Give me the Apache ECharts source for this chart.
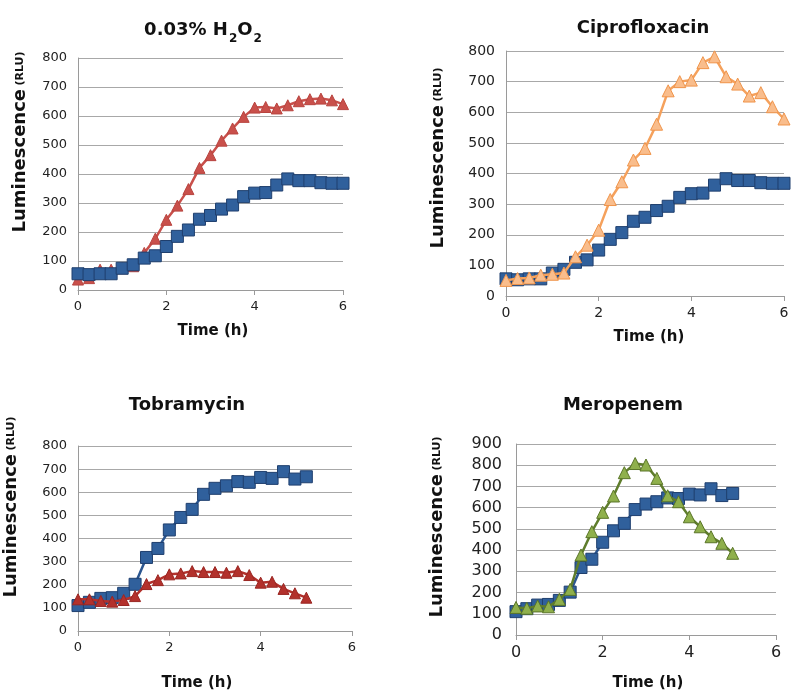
<!DOCTYPE html>
<html>
<head>
<meta charset="utf-8">
<script src="https://cdn.jsdelivr.net/npm/echarts@6/dist/echarts.min.js"></script>
<style>html,body{margin:0;padding:0;background:#fff;}#c{width:800px;height:697px;}</style>
</head>
<body>
<div id="c"></div>
<script>
// Time points (h)
var timeA = [0,0.25,0.5,0.75,1,1.25,1.5,1.75,2,2.25,2.5,2.75,3,3.25,3.5,3.75,4,4.25,4.5,4.75,5,5.25,5.5,5.75,6];
var timeB = [0,0.25,0.5,0.75,1,1.25,1.5,1.75,2,2.25,2.5,2.75,3,3.25,3.5,3.75,4,4.25,4.5,4.75,5];
// Control (blue squares)
var controlA = [56,53,56,56,75,87,110,118,150,185,207,244,257,279,293,322,334,336,362,383,377,377,370,368,368];
var controlB = [110,124,141,144,163,202,318,357,437,491,526,591,617,628,646,643,664,660,689,657,667];
// Treatments (triangles)
var h2o2 = [36,41,70,70,75,82,128,177,242,291,348,421,465,515,557,597,629,631,626,637,651,658,660,654,641];
var cipro = [51,57,59,68,71,75,128,166,215,315,373,444,482,561,670,700,705,762,781,716,692,653,664,618,578];
var tobra = [137,137,130,127,134,151,203,220,245,249,259,255,255,252,259,242,209,213,182,163,144];
var mero = [130,126,137,133,168,215,377,487,578,655,765,808,801,738,656,628,557,510,463,432,385];
// Axis settings
var xTicks = {min:0, max:6, interval:2};
var yMaxA = 800, yMaxD = 900, yStep = 100;

function pairs(t, v){ return t.map(function(x,i){ return [x, v[i]]; }); }

var FONT = 'DejaVu Sans';
var grids = [
  {left:78, top:58, width:265, height:232},
  {left:506, top:51, width:278, height:245},
  {left:78, top:446, width:274, height:185},
  {left:516, top:444, width:260, height:191}
];
var tickFont = [13,14,13,16];
var yMaxes = [yMaxA, yMaxA, yMaxA, yMaxD];

var xAxes = grids.map(function(g,i){
  return {type:'value', gridIndex:i, min:xTicks.min, max:xTicks.max, interval:xTicks.interval,
    axisLine:{show:true, lineStyle:{color:'#9a9a9a', width:1}},
    axisTick:{show:true, length:5, lineStyle:{color:'#9a9a9a'}},
    splitLine:{show:false},
    axisLabel:{color:'#222', fontFamily:FONT, fontSize:tickFont[i], margin:10}};
});
var yAxes = grids.map(function(g,i){
  return {type:'value', gridIndex:i, min:0, max:yMaxes[i], interval:yStep,
    axisLine:{show:true, lineStyle:{color:'#9a9a9a', width:1}},
    axisTick:{show:false},
    splitLine:{show:true, lineStyle:{color:'#a8a8a8', width:1}},
    axisLabel:{color:'#222', fontFamily:FONT, fontSize:tickFont[i], margin:i===3?14:11}};
});

function ser(idx, t, v, sym, size, fill, border, line, z){
  return {type:'line', xAxisIndex:idx, yAxisIndex:idx, data:pairs(t,v), symbol:sym, symbolSize:size,
    showSymbol:true, z:z, animation:false,
    lineStyle:{color:line, width:2.5},
    itemStyle:{color:fill, borderColor:border, borderWidth:1}};
}
var BLUE_F = '#30609c', BLUE_B = '#1f3f6e', BLUE_L = '#2b5690';
var series = [
  ser(0, timeA, h2o2, 'triangle', 11, '#c9504b', '#b8443f', '#c9504b', 2),
  ser(0, timeA, controlA, 'rect', 12, BLUE_F, BLUE_B, BLUE_L, 3),
  ser(1, timeA, controlA, 'rect', 12, BLUE_F, BLUE_B, BLUE_L, 2),
  ser(1, timeA, cipro, 'triangle', 12, '#f9bd8c', '#f0944a', '#f5a15c', 3),
  ser(2, timeB, controlB, 'rect', 12, BLUE_F, BLUE_B, BLUE_L, 2),
  ser(2, timeB, tobra, 'triangle', 11, '#b3312c', '#9a2622', '#b3312c', 3),
  ser(3, timeB, controlB, 'rect', 12, BLUE_F, BLUE_B, BLUE_L, 2),
  ser(3, timeB, mero, 'triangle', 12, '#8fb04c', '#5a7528', '#5f7d2c', 3)
];

function ylabel(x, y){
  return {type:'text', x:x, y:y, rotation:Math.PI/2, z:10,
    style:{text:'{a|Luminescence} {b|(RLU)}', align:'center', verticalAlign:'middle',
      rich:{a:{fontFamily:FONT, fontWeight:'bold', fontSize:18, fill:'#111', color:'#111'},
            b:{fontFamily:FONT, fontWeight:'bold', fontSize:11, fill:'#111', color:'#111'}}}};
}
function title(txt, x, y){
  return {type:'text', x:x, y:y, z:10,
    style:{text:txt, align:'center', verticalAlign:'middle', fontFamily:FONT, fontWeight:'bold', fontSize:18, fill:'#111'}};
}
function xlabel(x, y){
  return {type:'text', x:x, y:y, z:10,
    style:{text:'Time (h)', align:'center', verticalAlign:'middle', fontFamily:FONT, fontWeight:'bold', fontSize:15, fill:'#111'}};
}
var graphic = [
  {type:'text', x:203, y:33, z:10,
    style:{text:'{a|0.03% H}{s|2}{a|O}{s|2}', align:'center', verticalAlign:'middle',
      rich:{a:{fontFamily:FONT, fontWeight:'bold', fontSize:18, lineHeight:24, verticalAlign:'top', fill:'#111', color:'#111'},
            s:{fontFamily:FONT, fontWeight:'bold', fontSize:12, lineHeight:24, verticalAlign:'bottom', padding:[8,0,0,1], fill:'#111', color:'#111'}}}},
  title('Ciprofloxacin', 643, 28),
  title('Tobramycin', 187, 405),
  title('Meropenem', 623, 405),
  ylabel(20, 142), ylabel(438, 158), ylabel(11, 507), ylabel(437, 527),
  xlabel(213, 331), xlabel(649, 337), xlabel(197, 683), xlabel(648, 683)
];

var chart = echarts.init(document.getElementById('c'), null, {renderer:'canvas'});
chart.setOption({
  animation:false,
  backgroundColor:'#fff',
  grid: grids.map(function(g){ return Object.assign({containLabel:false}, g); }),
  xAxis:xAxes, yAxis:yAxes, series:series, graphic:graphic
});
</script>
</body>
</html>
